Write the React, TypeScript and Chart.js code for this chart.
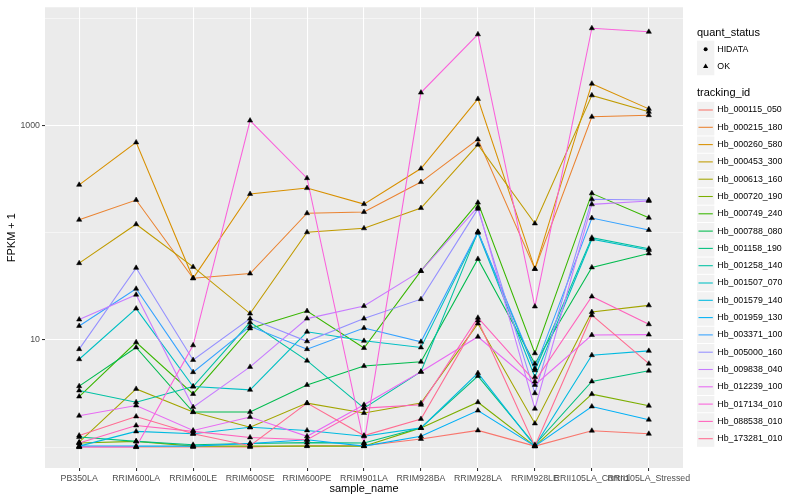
import { useEffect, useRef } from "react";
import { Chart, registerables } from "chart.js";

Chart.register(...registerables);

const categories = [
  "PB350LA",
  "RRIM600LA",
  "RRIM600LE",
  "RRIM600SE",
  "RRIM600PE",
  "RRIM901LA",
  "RRIM928BA",
  "RRIM928LA",
  "RRIM928LE",
  "RRII105LA_Control",
  "RRII105LA_Stressed",
];

const trackingIds = [
  "Hb_000115_050",
  "Hb_000215_180",
  "Hb_000260_580",
  "Hb_000453_300",
  "Hb_000613_160",
  "Hb_000720_190",
  "Hb_000749_240",
  "Hb_000788_080",
  "Hb_001158_190",
  "Hb_001258_140",
  "Hb_001507_070",
  "Hb_001579_140",
  "Hb_001959_130",
  "Hb_003371_100",
  "Hb_005000_160",
  "Hb_009838_040",
  "Hb_012239_100",
  "Hb_017134_010",
  "Hb_088538_010",
  "Hb_173281_010",
];

const seriesColors = [
  "#F8766D", "#EA8331", "#D89000", "#C09B00", "#A3A500",
  "#7CAE00", "#39B600", "#00BB4E", "#00BF7D", "#00C1A3",
  "#00BFC4", "#00BAE0", "#00B0F6", "#35A2FF", "#9590FF",
  "#C77CFF", "#E76BF3", "#FA62DB", "#FF62BC", "#FF6C91",
];

// FPKM + 1 per sample (order of categories)
const hb000115_050 = [1, 1, 1, 1, 1.03, 1.03, 1.19, 1.43, 1.02, 1.42, 1.33];
const hb000215_180 = [132, 202, 37.6, 41.6, 152, 156, 297, 743, 46, 1208, 1250];
const hb000260_580 = [280, 697, 37.6, 230, 261, 185, 397, 1774, 46, 2460, 1432];
const hb000453_300 = [52, 120, 48, 17.6, 101, 110, 170, 664, 122, 1914, 1343];
const hb000613_160 = [1.11, 3.49, 2.12, 1.53, 2.57, 2.08, 2.57, 14.2, 1.66, 18.2, 21];
const hb000720_190 = [1.09, 1.13, 1.02, 1.02, 1.02, 1.02, 1.51, 2.62, 1.02, 3.12, 2.43];
const hb000749_240 = [2.96, 9.5, 3.13, 12.8, 18.6, 8.4, 44, 191, 7.5, 233, 138];
const hb000788_080 = [3.7, 8.5, 2.12, 2.12, 3.8, 5.7, 6.25, 57, 6.0, 47.5, 64];
const hb001158_190 = [1.24, 1.13, 1.05, 1.08, 1.1, 1.09, 1.51, 4.6, 1.05, 4.1, 5.15];
const hb001258_140 = [3.37, 2.62, 3.67, 14.6, 6.4, 2.31, 5.05, 102, 5.2, 90, 71];
const hb001507_070 = [6.6, 19.6, 3.67, 3.42, 11.9, 9.8, 8.5, 100, 4.5, 87, 69];
const hb001579_140 = [1.02, 1.4, 1.33, 1.53, 1.43, 1.26, 1.51, 4.9, 1.02, 7.2, 7.9];
const hb001959_130 = [1.02, 1.02, 1.02, 1.08, 1.17, 1.02, 1.26, 2.19, 1.02, 2.39, 1.8];
const hb003371_100 = [13.5, 30, 5.0, 13.4, 8.2, 12.9, 9.6, 102, 5.4, 137, 106];
const hb005000_160 = [8.2, 47, 6.5, 15.8, 9.7, 15.8, 24, 167, 3.18, 205, 202];
const hb009838_040 = [15.5, 26.4, 2.36, 5.6, 15.8, 20.7, 44, 174, 2.28, 184, 198];
const hb012239_100 = [1.96, 2.44, 1.43, 1.91, 1.26, 2.48, 5.05, 10.7, 3.8, 11.1, 11.2];
const hb017134_010 = [1, 1, 8.9, 1114, 323, 1.09, 2030, 7100, 20.5, 8100, 7500];
const hb088538_010 = [1.09, 1.59, 1.4, 1.23, 1.17, 2.31, 2.48, 16.1, 4.1, 25.4, 14];
const hb173281_010 = [1.28, 1.93, 1.33, 1.03, 2.57, 1.28, 1.83, 15.2, 1.02, 17, 6.0];

const seriesValues = [
  hb000115_050, hb000215_180, hb000260_580, hb000453_300, hb000613_160,
  hb000720_190, hb000749_240, hb000788_080, hb001158_190, hb001258_140,
  hb001507_070, hb001579_140, hb001959_130, hb003371_100, hb005000_160,
  hb009838_040, hb012239_100, hb017134_010, hb088538_010, hb173281_010,
];

const yTickValues = [1, 10, 100, 1000, 10000];
const yMajorTicks = [10, 1000];
const quantStatus = ["HIDATA", "OK"];

const FONT = '"Liberation Sans", Arial, sans-serif';

export default function App() {
  const canvasRef = useRef<HTMLCanvasElement | null>(null);

  useEffect(() => {
    document.body.style.margin = "0";
    const canvas = canvasRef.current;
    if (!canvas) return;

    const allVals = seriesValues.flat();
    const lmin = Math.log10(Math.min(...allVals));
    const lmax = Math.log10(Math.max(...allVals));
    const pad = (lmax - lmin) * 0.05;
    const yMin = Math.pow(10, lmin - pad);
    const yMax = Math.pow(10, lmax + pad);

    const n = seriesValues.length;
    const lineSets = seriesValues.map((vals, i) => ({
      type: "line" as const,
      label: trackingIds[i],
      data: vals.map((v, j) => ({ x: j, y: v })),
      borderColor: seriesColors[i],
      backgroundColor: seriesColors[i],
      borderWidth: 1.07,
      pointRadius: 0,
      fill: false,
      tension: 0,
      order: n - i,
    }));

    const pointSet = {
      type: "scatter" as const,
      label: "OK",
      data: seriesValues.flatMap((vals) => vals.map((v, j) => ({ x: j, y: v }))),
      pointStyle: "triangle" as const,
      pointRadius: 3,
      pointBackgroundColor: "#000000",
      pointBorderColor: "#000000",
      pointBorderWidth: 0.5,
      showLine: false,
      order: -1,
    };

    const decorPlugin = {
      id: "ggDecor",
      beforeDraw(chart: any) {
        const { ctx, chartArea } = chart;
        ctx.save();
        ctx.fillStyle = "#FFFFFF";
        ctx.fillRect(0, 0, chart.width, chart.height);
        ctx.fillStyle = "#EBEBEB";
        ctx.fillRect(chartArea.left, chartArea.top, chartArea.right - chartArea.left, chartArea.bottom - chartArea.top);
        ctx.restore();
      },
      afterDraw(chart: any) {
        const { ctx, chartArea } = chart;
        ctx.save();
        ctx.fillStyle = "#000000";
        ctx.font = `11px ${FONT}`;
        ctx.textAlign = "center";
        ctx.textBaseline = "middle";
        ctx.fillText("sample_name", (chartArea.left + chartArea.right) / 2, 489);
        ctx.save();
        ctx.translate(12, (chartArea.top + chartArea.bottom) / 2);
        ctx.rotate(-Math.PI / 2);
        ctx.fillText("FPKM + 1", 0, 0);
        ctx.restore();

        const lx = 697;
        const key = 17.3;
        ctx.textAlign = "left";
        ctx.font = `11px ${FONT}`;
        ctx.fillText("quant_status", lx, 33);
        quantStatus.forEach((label, i) => {
          const cy = 49.3 + i * 17.3;
          ctx.fillStyle = "#F2F2F2";
          ctx.fillRect(lx, cy - key / 2, key, key);
          ctx.fillStyle = "#000000";
          const cx = lx + key / 2;
          if (label === "HIDATA") {
            ctx.beginPath();
            ctx.arc(cx, cy, 2, 0, Math.PI * 2);
            ctx.fill();
          } else {
            ctx.beginPath();
            ctx.moveTo(cx, cy - 3);
            ctx.lineTo(cx + 2.6, cy + 1.5);
            ctx.lineTo(cx - 2.6, cy + 1.5);
            ctx.closePath();
            ctx.fill();
          }
          ctx.font = `8.8px ${FONT}`;
          ctx.fillText(label, lx + key + 3, cy);
        });

        ctx.font = `11px ${FONT}`;
        ctx.fillStyle = "#000000";
        ctx.fillText("tracking_id", lx, 92.7);
        trackingIds.forEach((id, i) => {
          const cy = 110 + i * 17.3;
          ctx.fillStyle = "#F2F2F2";
          ctx.fillRect(lx, cy - key / 2 + 0.5, key, key - 1);
          ctx.strokeStyle = seriesColors[i];
          ctx.lineWidth = 1.07;
          ctx.beginPath();
          ctx.moveTo(lx + 1.5, cy);
          ctx.lineTo(lx + key - 1.5, cy);
          ctx.stroke();
          ctx.fillStyle = "#000000";
          ctx.font = `8.8px ${FONT}`;
          ctx.fillText(id, lx + key + 3, cy);
        });
        ctx.restore();
      },
    };

    const chart = new Chart(canvas, {
      type: "line",
      data: { datasets: [...lineSets, pointSet] as any },
      options: {
        animation: false,
        responsive: false,
        devicePixelRatio: 1,
        layout: { padding: { left: 0, top: 5, right: 117, bottom: 0 } },
        plugins: {
          legend: { display: false },
          tooltip: { enabled: false },
        },
        scales: {
          x: {
            type: "linear",
            bounds: "data",
            min: -0.6,
            max: 10.6,
            afterBuildTicks: (scale: any) => {
              scale.ticks = categories.map((_, i) => ({ value: i }));
            },
            afterFit: (scale: any) => {
              scale.height = 32;
            },
            ticks: {
              autoSkip: false,
              maxRotation: 0,
              minRotation: 0,
              padding: 2,
              color: "#4D4D4D",
              font: { family: FONT, size: 8.8 },
              callback: (v: any) => categories[Number(v)] ?? "",
            },
            grid: {
              color: "#FFFFFF",
              lineWidth: 1.07,
              tickColor: "#333333",
              tickLength: 3,
              tickWidth: 1.07,
            },
            border: { display: false },
          },
          y: {
            type: "logarithmic",
            bounds: "data",
            min: yMin,
            max: yMax,
            afterBuildTicks: (scale: any) => {
              scale.ticks = yTickValues.map((v) => ({ value: v }));
            },
            afterDataLimits: (scale: any) => {
              scale.min = yMin;
              scale.max = yMax;
            },
            afterFit: (scale: any) => {
              scale.width = 45;
            },
            ticks: {
              autoSkip: false,
              padding: 2,
              color: "#4D4D4D",
              font: { family: FONT, size: 8.8 },
              callback: (v: any) => (yMajorTicks.includes(Number(v)) ? String(v) : ""),
            },
            grid: {
              color: "#FFFFFF",
              lineWidth: (c: any) => (yMajorTicks.includes(c.tick?.value) ? 1.07 : 0.53),
              tickColor: (c: any) => (yMajorTicks.includes(c.tick?.value) ? "#333333" : "rgba(0,0,0,0)"),
              tickLength: 3,
              tickWidth: 1.07,
            },
            border: { display: false },
          },
        },
      },
      plugins: [decorPlugin],
    });

    return () => chart.destroy();
  }, []);

  return (
    <div style={{ width: 800, height: 500 }}>
      <canvas ref={canvasRef} width={800} height={500} style={{ width: 800, height: 500, display: "block" }} />
    </div>
  );
}
